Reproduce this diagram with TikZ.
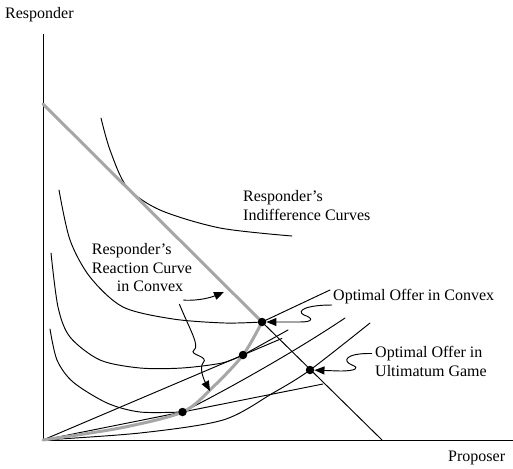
\documentclass[tikz,border=0pt]{standalone}
\usepackage{fontspec}
\setmainfont{Liberation Serif}
\usetikzlibrary{arrows.meta}
\definecolor{ink}{HTML}{000000}
\definecolor{react}{HTML}{A6A6A6}
\tikzset{
  axis/.style={draw=ink, line width=1pt},
  ind/.style={draw=ink, line width=0.95pt, line cap=round, line join=round},
  reac/.style={draw=react, line width=3pt, line cap=round, line join=round},
  lead/.style={draw=ink, line width=0.95pt, -{Triangle[length=10pt,width=8pt]}},
  dot/.style={circle, fill=ink, inner sep=0pt, minimum size=8.5pt},
  lab/.style={text=ink, font=\fontsize{16}{18.5}\selectfont, inner sep=0pt, align=left},
}
\begin{document}
\begin{tikzpicture}[x=1pt,y=-1pt]
  \useasboundingbox (0,0) rectangle (513,468);
  \coordinate (O) at (43,440);
  \coordinate (Ytop) at (43,34);
  \coordinate (Xend) at (513,440);
  \coordinate (B0) at (43,104);
  \coordinate (B1) at (382,440);
  \coordinate (Cc) at (262,322);
  \coordinate (Cm) at (243,355);
  \coordinate (Cb) at (182.5,412);
  \coordinate (Cu) at (310,370);
  \coordinate (gA) at (224,292);
  \coordinate (gB) at (210,391);
  % axes
  \draw[axis] (Ytop)--(O)--(Xend);
  % indifference curves
  \draw[ind] plot[smooth] coordinates {(101,118) (110,150) (127,187) (160,210) (220,228) (292,236)};
  \draw[ind] plot[smooth] coordinates {(59,190) (70,240) (90,277) (123,307) (173,319) (225,323) (Cc)} -- (330,290);
  \draw[ind] plot[smooth] coordinates {(51,253) (58,307) (70,337) (100,360) (140,368) (182,368) (222,363) (Cm)} -- (288,330);
  \draw[ind] plot[smooth] coordinates {(50,329) (57,360) (73,382) (107,403) (140,412) (Cb)} -- (323,384);
  % rays from the origin
  \draw[ind] (O) -- (282,338.4);
  \draw[ind] (O) -- (Cb) .. controls (215,396) and (290,355) .. (345,318);
  \draw[ind] plot[smooth] coordinates {(O) (140,433) (223,420) (273,393) (Cu) (370,323)};
  % budget line and reaction curve
  \draw[ind] (Cc) -- (B1);
  \draw[reac] (B0) -- (Cc);
  \draw[reac] plot[smooth] coordinates {(O) (120,428) (Cb) (213,387) (Cm) (Cc)};
  % optimal points
  \node[dot] (pc) at (Cc) {};
  \node[dot] (pm) at (Cm) {};
  \node[dot] (pb) at (Cb) {};
  \node[dot] (pu) at (Cu) {};
  % labels
  \node[lab,anchor=west] (ylab) at (5,15) {Responder};
  \node[lab,anchor=west] (xlab) at (448,458) {Proposer};
  \node[lab,anchor=west] (icl) at (243,205.5) {Responder's\\Indifference Curves};
  \node[lab,anchor=west] (rcl) at (91.7,268) {Responder's\\Reaction Curve\\\hspace*{25pt}in Convex};
  \node[lab,anchor=west] (ocl) at (333,297) {Optimal Offer in Convex};
  \node[lab,anchor=west] (oul) at (375,361.5) {Optimal Offer in\\Ultimatum Game};
  % leaders
  \draw[lead] ([shift={(-1,8)}]ocl.west) .. controls (305,305) and (296,311) .. (304,315)
    .. controls (313,318) and (314,322) .. (300,322) -- (pc);
  \draw[lead] ([shift={(-3,-8)}]oul.west) .. controls (345,353) and (342,361) .. (352,365)
    .. controls (360,368) and (356,371) .. (340,371) -- (pu);
  \draw[lead] ([shift={(-8.7,7.8)}]rcl.south east) .. controls (200,301) and (212,297) .. (gA);
  \draw[lead] ([shift={(-12.7,11.8)}]rcl.south east) .. controls (190,330) and (200,346) .. (194,350)
    .. controls (188,355) and (210,356) .. (203,363) .. controls (199,368) and (204,380) .. (gB);
\end{tikzpicture}
\end{document}
